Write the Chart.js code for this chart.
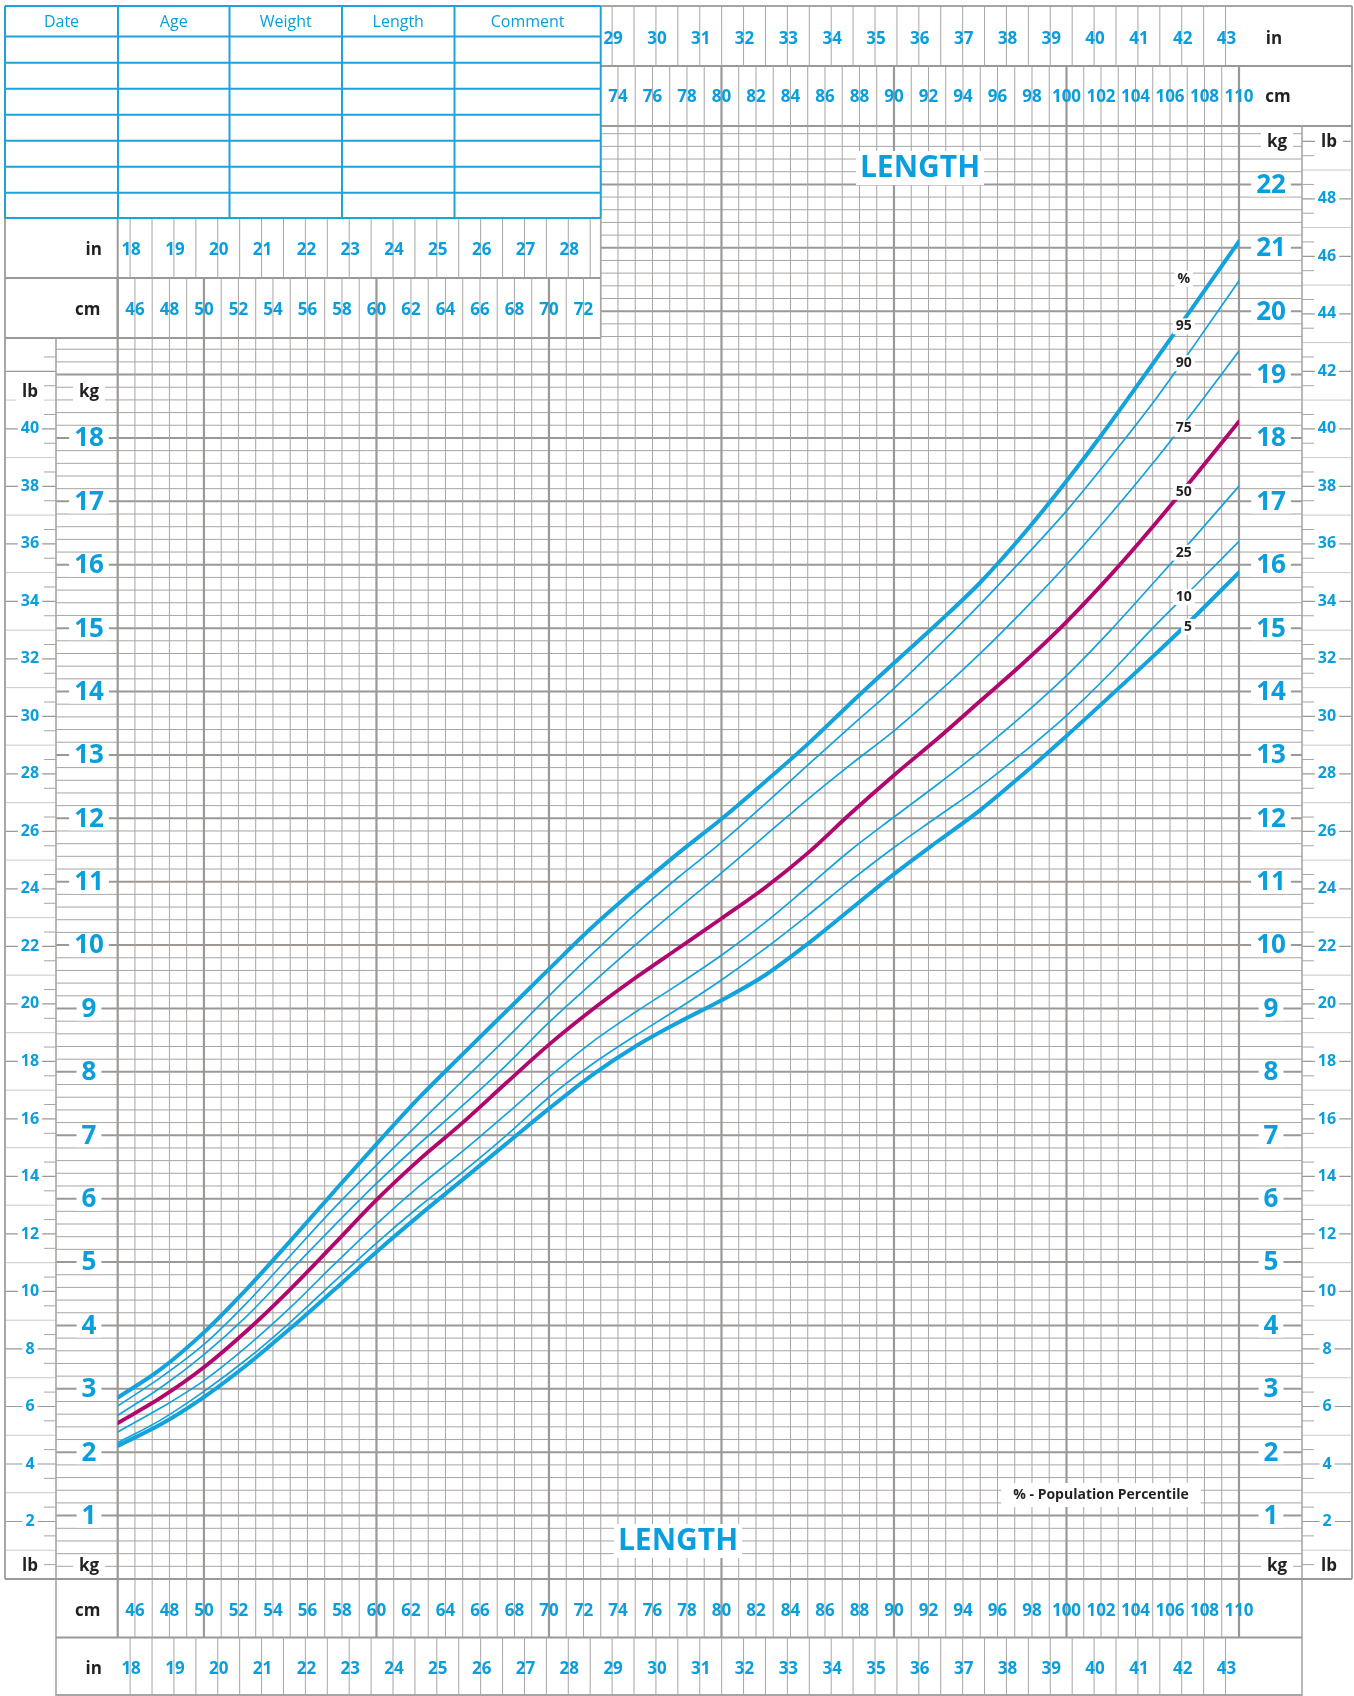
<!DOCTYPE html>
<html><head><meta charset="utf-8">
<script src="https://cdn.jsdelivr.net/npm/chart.js@4.4.1/dist/chart.umd.min.js"></script>
<style>html,body{margin:0;padding:0;background:#fff}canvas{display:block}</style>
</head><body>
<canvas id="c" width="1354" height="1696" style="width:1354px;height:1696px"></canvas>
<script>
// ---------- DATA ----------
const lengthCm = [45,47.5,50,52.5,55,57.5,60,62.5,65,67.5,70,72.5,75,77.5,80,82.5,85,87.5,90,92.5,95,97.5,100,102.5,105,107.5,110];
const p95 = [2.86,3.31,3.89,4.58,5.33,6.1,6.86,7.6,8.28,8.95,9.62,10.28,10.88,11.45,11.99,12.57,13.17,13.82,14.45,15.07,15.72,16.48,17.32,18.22,19.17,20.13,21.1];
const p90 = [2.73,3.18,3.70,4.36,5.1,5.84,6.53,7.2,7.86,8.52,9.2,9.86,10.49,11.07,11.62,12.22,12.84,13.45,14.05,14.7,15.38,16.1,16.85,17.68,18.55,19.5,20.48];
const p75 = [2.58,3.02,3.54,4.15,4.86,5.56,6.24,6.87,7.47,8.1,8.78,9.4,10.0,10.58,11.14,11.72,12.30,12.85,13.38,13.97,14.6,15.28,16.0,16.78,17.6,18.47,19.37];
const p50 = [2.46,2.86,3.34,3.92,4.57,5.27,5.98,6.62,7.2,7.82,8.43,8.98,9.48,9.95,10.42,10.9,11.45,12.08,12.68,13.25,13.85,14.45,15.1,15.82,16.6,17.42,18.26];
const p25 = [2.32,2.70,3.13,3.67,4.28,4.95,5.6,6.2,6.75,7.33,7.92,8.47,8.94,9.38,9.84,10.35,10.92,11.5,12.02,12.53,13.06,13.63,14.25,14.95,15.7,16.46,17.24];
const p10 = [2.15,2.51,2.96,3.47,4.05,4.68,5.3,5.88,6.42,6.99,7.6,8.12,8.57,9.0,9.45,9.94,10.47,11.02,11.54,12.02,12.5,13.04,13.62,14.28,15.0,15.68,16.37];
const p5  = [2.10,2.44,2.87,3.38,3.95,4.55,5.16,5.74,6.3,6.86,7.42,7.95,8.4,8.78,9.13,9.52,10.02,10.57,11.12,11.63,12.13,12.7,13.3,13.92,14.55,15.2,15.88];

const cmTickLabels = [46,48,50,52,54,56,58,60,62,64,66,68,70,72,74,76,78,80,82,84,86,88,90,92,94,96,98,100,102,104,106,108,110];
const inchTickLabels = [18,19,20,21,22,23,24,25,26,27,28,29,30,31,32,33,34,35,36,37,38,39,40,41,42,43];
const kgTickLabels = [1,2,3,4,5,6,7,8,9,10,11,12,13,14,15,16,17,18,19,20,21,22];
const lbTickLabels = [2,4,6,8,10,12,14,16,18,20,22,24,26,28,30,32,34,36,38,40,42,44,46,48];
const tableHeaders = ['Date','Age','Weight','Length','Comment'];
const percentileNames = ['95','90','75','50','25','10','5'];

// ---------- STYLE ----------
const BLUE = '#0a9fdc', LINEBLUE = '#12a3dc', MAG = '#b0066d', DARK = '#231f20';
const GRID = '#a9a5a2', GRIDMAJ = '#9c9895', GRIDL = '#cdc9c6', TBL = '#1ea2dc';
const FONT = '"Open Sans","Noto Sans",sans-serif';
const LB = 0.45359237;

function ln(ctx,x1,y1,x2,y2,w,c){ctx.beginPath();ctx.lineWidth=w;ctx.strokeStyle=c;ctx.moveTo(x1,y1);ctx.lineTo(x2,y2);ctx.stroke();}
function txt(ctx,t,x,y,font,color,bg,px,py){
  ctx.font=font; ctx.textAlign='center'; ctx.textBaseline='middle';
  if(bg){const w=ctx.measureText(t).width; ctx.fillStyle='#fff'; ctx.fillRect(x-w/2-px,y-py,w+2*px,2*py);}
  ctx.fillStyle=color; ctx.fillText(t,x,y);
}

const sheet = {
  id:'sheet',
  beforeDatasetsDraw(chart){
    const ctx=chart.ctx, xs=chart.scales.x, ys=chart.scales.y;
    const X=v=>xs.getPixelForValue(v), Y=v=>ys.getPixelForValue(v);
    const L=X(45), R=X(110), B=Y(0), T=126, tabR=X(73);
    const rowBot=338, W=1352, kgL=56, kgR2=1302;
    ctx.save();
    ctx.fillStyle='#fff'; ctx.fillRect(0,0,chart.width,chart.height);

    // grid
    for(let i=0;i<=115;i++){
      const kg=i*0.2, y=Y(kg); if(y<T-0.5) continue;
      const maj=i%5===0;
      const x0 = y<rowBot-0.5 ? tabR : kgL;
      ln(ctx,x0,y,kgR2,y,maj?2:1,maj?GRIDMAJ:GRID);
    }
    for(let cm=45;cm<=110;cm++){
      const x=X(cm), y0 = x<tabR-0.5 ? rowBot : T;
      const maj = cm%10===0 || cm===45;
      ln(ctx,x,y0,x,B,maj?2.2:1,maj?GRIDMAJ:GRID);
    }

    // --- lb columns ---
    for(let h=1;h<=100;h++){
      const lb=h*0.5, y=Y(lb*LB);
      const even = h%4===0, odd = h%2===0 && !even;
      if(y>=rowBot+6 && y<B-2){
        if(even) ln(ctx,5,y,kgL,y,1.2,GRIDMAJ);
        else if(odd) ln(ctx,5,y,kgL,y,1,GRIDL);
        else ln(ctx,kgL-12,y,kgL,y,1,GRID);
      }
      if(y>=T+6 && y<B-2){
        if(even) ln(ctx,kgR2,y,W,y,1.2,GRIDMAJ);
        else if(odd) ln(ctx,kgR2,y,W,y,1,GRIDL);
        else ln(ctx,kgR2,y,kgR2+12,y,1,GRID);
      }
    }
    // frame lines
    ln(ctx,5,6,5,B,2,GRID);
    ln(ctx,kgL,rowBot,kgL,1696,1.6,GRID);
    ln(ctx,kgR2,T,kgR2,1696,1.6,GRID);
    ln(ctx,W,6,W,B,2,GRID);
    ln(ctx,5,B,W,B,2,GRIDMAJ);
    ln(ctx,5,rowBot,tabR,rowBot,2,GRIDMAJ);
    ln(ctx,tabR,T,W,T,2,GRIDMAJ);

    // --- rulers ---
    const cmFont='bold 17px '+FONT;
    function cmRow(y0,y1,c0,c1,ly){
      for(let cm=c0;cm<=c1;cm++){const x=X(cm);const maj=cm%10===0||cm===45;ln(ctx,x,y0,x,y1,maj?2.2:1,maj?GRIDMAJ:GRID);}
      cmTickLabels.forEach(c=>{ if(c>c0-0.01 && c<c1+0.01) txt(ctx,String(c),X(c),ly,cmFont,BLUE); });
    }
    function inRow(y0,y1,i0,i1,ly){
      for(let v=i0;v<=i1+0.001;v+=0.5){const x=X(v*2.54);ln(ctx,x,y0,x,y1,1,GRID);}
      inchTickLabels.forEach(v=>{ if(v>=i0 && v<=i1) txt(ctx,String(v),X(v*2.54)+1,ly,cmFont,BLUE); });
    }
    // top-left rows
    ln(ctx,5,278,tabR,278,2,GRIDMAJ);
    ln(ctx,L,218,L,rowBot,2,GRIDMAJ);
    ln(ctx,tabR,218,tabR,rowBot,1.6,GRID);
    inRow(218,278,18,28.5,250);
    cmRow(278,rowBot,45,72,310);
    txt(ctx,'in',L-24,250,'bold 17px '+FONT,DARK);
    txt(ctx,'cm',L-30,310,'bold 17px '+FONT,DARK);
    // top-right rows
    ln(ctx,tabR,6,W,6,2,GRID);
    ln(ctx,tabR,66,W,66,2,GRIDMAJ);
    inRow(6,66,29,43,39);
    cmRow(66,T,74,110,97);
    txt(ctx,'in',1274,39,'bold 17px '+FONT,DARK);
    txt(ctx,'cm',1278,97,'bold 17px '+FONT,DARK);
    // bottom rows
    ln(ctx,kgL,1637.5,kgR2,1637.5,2,GRIDMAJ);
    ln(ctx,kgL,1695,kgR2,1695,2,GRID);
    cmRow(B,1637.5,45,110,1611);
    inRow(1637.5,1696,18,43,1669);
    txt(ctx,'cm',L-30,1611,'bold 17px '+FONT,DARK);
    txt(ctx,'in',L-24,1669,'bold 17px '+FONT,DARK);

    // --- table ---
    const cols=[5,118,229.5,342,454.5,tabR];
    const rows=[6,36.5,62.7,88.7,114.7,140.7,166.7,192.7,218];
    rows.forEach(y=>ln(ctx,5,y,tabR,y,2,TBL));
    cols.forEach(x=>ln(ctx,x,6,x,218,2,TBL));
    tableHeaders.forEach((h,i)=>txt(ctx,h,(cols[i]+cols[i+1])/2,22,'16px '+FONT,BLUE));
    ctx.restore();
  },
  afterDatasetsDraw(chart){
    const ctx=chart.ctx, xs=chart.scales.x, ys=chart.scales.y;
    const X=v=>xs.getPixelForValue(v), Y=v=>ys.getPixelForValue(v);
    ctx.save();
    const kgFont='bold 26px '+FONT, lbFont='bold 16px '+FONT, hFont='bold 17px '+FONT;
    kgTickLabels.forEach(k=>{
      const y=Y(k);
      if(y>410) txt(ctx,String(k),89,y+1,kgFont,BLUE,true,5,11);
      txt(ctx,String(k),1271,y+1,kgFont,BLUE,true,5,11);
    });
    lbTickLabels.forEach(l=>{
      const y=Y(l*LB);
      if(y>410) txt(ctx,String(l),30,y,lbFont,BLUE,true,3,7);
      if(y>160) txt(ctx,String(l),1327,y,lbFont,BLUE,true,3,7);
    });
    txt(ctx,'lb',30,392,hFont,DARK,true,6,11);
    txt(ctx,'kg',89,392,hFont,DARK,true,6,11);
    txt(ctx,'lb',30,1566,hFont,DARK,true,6,10);
    txt(ctx,'kg',89,1566,hFont,DARK,true,6,10);
    txt(ctx,'kg',1277,142,hFont,DARK,true,6,10);
    txt(ctx,'lb',1329,142,hFont,DARK,true,6,10);
    txt(ctx,'kg',1277,1566,hFont,DARK,true,6,10);
    txt(ctx,'lb',1329,1566,hFont,DARK,true,6,10);
    // percentile labels
    const pf='bold 14px '+FONT;
    const anchors={'%':20.51,'95':19.76,'90':19.18,'75':18.15,'50':17.15,'25':16.19,'10':15.49,'5':15.02};
    txt(ctx,'%',X(106.8),Y(anchors['%']),pf,DARK,true,3,8);
    percentileNames.forEach(n=>txt(ctx,n,X(n==='5'?107.05:106.8),Y(anchors[n]),pf,DARK,true,3,8));
    // titles
    txt(ctx,'LENGTH',920,168,'bold 30px '+FONT,BLUE,true,4,17);
    txt(ctx,'LENGTH',678,1541,'bold 30px '+FONT,BLUE,true,4,17);
    txt(ctx,'% - Population Percentile',1101,1495,'bold 14px '+FONT,DARK,true,12,12);
    ctx.restore();
  }
};

const series = [
  {n:'50',d:p50,c:MAG,w:3.8,o:0},
  {n:'95',d:p95,c:LINEBLUE,w:4,o:1},
  {n:'5', d:p5, c:LINEBLUE,w:4,o:2},
  {n:'90',d:p90,c:LINEBLUE,w:1.7,o:3},
  {n:'75',d:p75,c:LINEBLUE,w:1.7,o:4},
  {n:'25',d:p25,c:LINEBLUE,w:1.7,o:5},
  {n:'10',d:p10,c:LINEBLUE,w:1.7,o:6}
];

new Chart(document.getElementById('c'),{
  type:'line',
  data:{datasets:series.map(s=>({
    label:s.n+'%', data:lengthCm.map((x,i)=>({x:x,y:s.d[i]})),
    borderColor:s.c, borderWidth:s.w, pointRadius:0, fill:false,
    cubicInterpolationMode:'monotone', order:s.o, borderCapStyle:'round'
  }))},
  options:{
    responsive:false, animation:false, devicePixelRatio:1,
    layout:{padding:{left:117.7,right:115,top:121,bottom:117}},
    plugins:{legend:{display:false},tooltip:{enabled:false}},
    scales:{
      x:{type:'linear',min:45,max:110,display:false},
      y:{type:'linear',min:0,max:23,display:false}
    }
  },
  plugins:[sheet]
});
</script>
</body></html>
